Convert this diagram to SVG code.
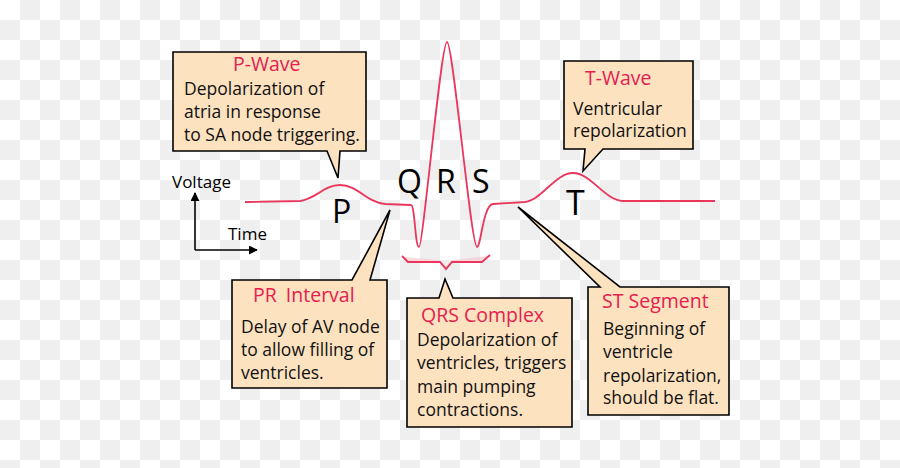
<svg xmlns="http://www.w3.org/2000/svg" width="900" height="468" viewBox="0 0 900 468">
<defs>
<pattern id="checker" width="40" height="40" patternUnits="userSpaceOnUse">
<rect width="40" height="40" fill="#ffffff"/>
<rect x="20" y="0" width="20" height="20" fill="#efefef"/>
<rect x="0" y="20" width="20" height="20" fill="#efefef"/>
</pattern>
<marker id="arr" viewBox="0 0 10 10" refX="9" refY="5" markerWidth="9" markerHeight="9" markerUnits="userSpaceOnUse" orient="auto">
<path d="M0,0 L10,5 L0,10 Z" fill="#000"/>
</marker>
</defs>
<style>
.box{fill:#fde2c0;stroke:#000;stroke-width:1.6;stroke-linejoin:miter}
.title{font-family:"Open Sans","Liberation Sans",sans-serif;font-size:19.5px;fill:#e4204f}
.body{font-family:"Open Sans","Liberation Sans",sans-serif;font-size:17.5px;fill:#111}
.big{font-family:"Open Sans","Liberation Sans",sans-serif;font-size:32px;fill:#000}
.axis{font-family:"Open Sans","Liberation Sans",sans-serif;font-size:17px;fill:#000}
.ecg{fill:none;stroke:#e8365c;stroke-width:1.8;stroke-linejoin:round}
</style>
<rect width="900" height="468" fill="url(#checker)"/>

<g id="connectors">
<path id="ecg-trace" class="ecg" d="M245,202 L300,201 C316,199 324,185 340,185 C358,185 366,202 385,204 L411,205 C415,205 415,247 419,247 C423,247 441,42 447,42 C453,42 471,247 477,247 C481,247 483,205 493,204 L525,202 C542,200 555,173 573,173 C591,173 604,200 623,201 L715,201"/>
<polygon points="404,257 440,260 446,266 452,260 488,256 482,262 452,262 446,269 440,262 408,262" fill="#f7c5cc" opacity="0.6"/>
<polyline id="qrs-bracket" points="402,256 408,262 440,262 446,269 452,262 482,262 490,255" fill="none" stroke="#e8365c" stroke-width="1.8" stroke-linejoin="miter"/>
<line x1="195" y1="250" x2="195" y2="193" stroke="#000" stroke-width="1.6" marker-end="url(#arr)"/>
<line x1="195" y1="250" x2="257" y2="250" stroke="#000" stroke-width="1.6" marker-end="url(#arr)"/>
</g>

<g id="axis-labels">
<text class="axis" x="172" y="188">Voltage</text>
<text class="axis" x="228" y="240">Time</text>
</g>

<g id="wave-labels">
<text class="big" x="332" y="223">P</text>
<text class="big" x="397" y="193">Q</text>
<text class="big" x="436" y="193">R</text>
<text class="big" x="472" y="193">S</text>
<text class="big" x="566" y="215" style="font-size:34px">T</text>
</g>

<g id="p-wave">
<path class="box" d="M173,52 H366 V151 H340 L338,178 L327,151 H173 Z"/>
<text class="title" x="233" y="71">P-Wave</text>
<text class="body" x="184" y="95">Depolarization of</text>
<text class="body" x="184" y="118">atria in response</text>
<text class="body" x="184" y="141">to SA node triggering.</text>
</g>

<g id="t-wave">
<path class="box" d="M564,61 H693 V149 H603 L583,171 L585,149 H564 Z"/>
<text class="title" x="585" y="85">T-Wave</text>
<text class="body" x="573" y="115">Ventricular</text>
<text class="body" x="573" y="137">repolarization</text>
</g>

<g id="pr-interval">
<path class="box" d="M232,280 H352 L390,210 L370,280 H387 V388 H232 Z"/>
<text class="title" x="253" y="302" style="word-spacing:4px">PR Interval</text>
<text class="body" x="241" y="333">Delay of AV node</text>
<text class="body" x="241" y="356">to allow filling of</text>
<text class="body" x="241" y="379">ventricles.</text>
</g>

<g id="qrs-complex">
<path class="box" d="M407,298 H439 L445,279 L453,298 H572 V427 H407 Z"/>
<text class="title" x="421" y="322">QRS Complex</text>
<text class="body" x="417" y="346">Depolarization of</text>
<text class="body" x="417" y="369">ventricles, triggers</text>
<text class="body" x="417" y="393">main pumping</text>
<text class="body" x="417" y="416">contractions.</text>
</g>

<g id="st-segment">
<path class="box" d="M588,287 H600 L518,207 L620,287 H729 V415 H588 Z"/>
<text class="title" x="602" y="308">ST Segment</text>
<text class="body" x="603" y="335">Beginning of</text>
<text class="body" x="603" y="358">ventricle</text>
<text class="body" x="603" y="382">repolarization,</text>
<text class="body" x="603" y="404">should be flat.</text>
</g>
</svg>
